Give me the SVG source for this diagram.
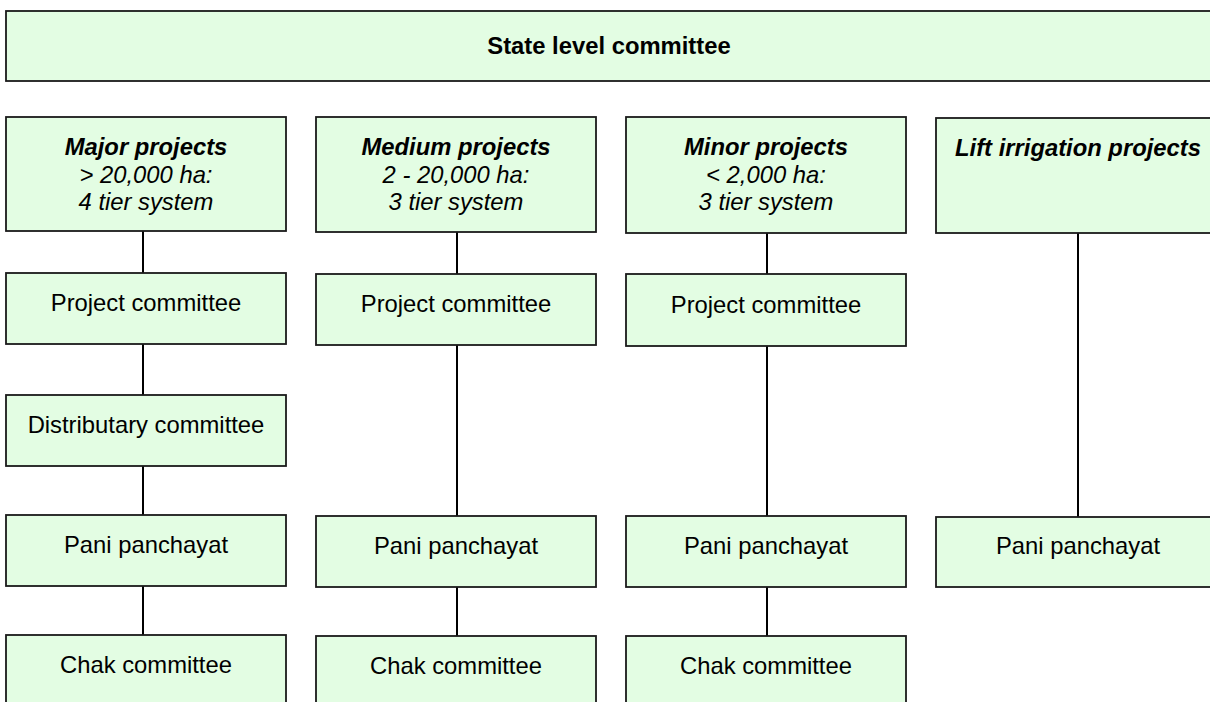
<svg xmlns="http://www.w3.org/2000/svg" width="1210" height="702" viewBox="0 0 1210 702">
<style>
.box{fill:#E3FDE3;stroke:#1a1a1a;stroke-width:1.8}
.t{font-family:"Liberation Sans",Arial,sans-serif;font-size:23.8px;fill:#000;text-anchor:middle}
.b{font-weight:bold}
.i{font-style:italic}
.c{stroke:#000;stroke-width:2;fill:none}
</style>
<rect width="1210" height="702" fill="#fff"/>
<g id="connectors">
<path class="c" d="M143 231V273M143 344V395M143 466V515M143 586V635"/>
<path class="c" d="M457 232V274M457 345V516M457 587V636"/>
<path class="c" d="M767 233V274M767 346V516M767 587V636"/>
<path class="c" d="M1078 233V517"/>
</g>
<g id="state"><rect class="box" x="6" y="11" width="1206" height="70"/><text class="t b" x="609" y="54">State level committee</text></g>
<g id="major"><rect class="box" x="6" y="117" width="280" height="114"/><text class="t i" x="146" y="155"><tspan class="b">Major projects</tspan><tspan x="146" y="182.5">&gt; 20,000 ha:</tspan><tspan x="146" y="210">4 tier system</tspan></text></g>
<g id="medium"><rect class="box" x="316" y="117" width="280" height="115"/><text class="t i" x="456" y="155"><tspan class="b">Medium projects</tspan><tspan x="456" y="182.5">2 - 20,000 ha:</tspan><tspan x="456" y="210">3 tier system</tspan></text></g>
<g id="minor"><rect class="box" x="626" y="117" width="280" height="116"/><text class="t i" x="766" y="155"><tspan class="b">Minor projects</tspan><tspan x="766" y="182.5">&lt; 2,000 ha:</tspan><tspan x="766" y="210">3 tier system</tspan></text></g>
<g id="lift"><rect class="box" x="936" y="118" width="284" height="115"/><text class="t i b" x="1078" y="156">Lift irrigation projects</text></g>
<g id="major-pc"><rect class="box" x="6" y="273" width="280" height="71"/><text class="t" x="146" y="311">Project committee</text></g>
<g id="medium-pc"><rect class="box" x="316" y="274" width="280" height="71"/><text class="t" x="456" y="312">Project committee</text></g>
<g id="minor-pc"><rect class="box" x="626" y="274" width="280" height="72"/><text class="t" x="766" y="313">Project committee</text></g>
<g id="major-dc"><rect class="box" x="6" y="395" width="280" height="71"/><text class="t" x="146" y="433">Distributary committee</text></g>
<g id="major-pp"><rect class="box" x="6" y="515" width="280" height="71"/><text class="t" x="146" y="553">Pani panchayat</text></g>
<g id="medium-pp"><rect class="box" x="316" y="516" width="280" height="71"/><text class="t" x="456" y="554">Pani panchayat</text></g>
<g id="minor-pp"><rect class="box" x="626" y="516" width="280" height="71"/><text class="t" x="766" y="554">Pani panchayat</text></g>
<g id="lift-pp"><rect class="box" x="936" y="517" width="284" height="70"/><text class="t" x="1078" y="554">Pani panchayat</text></g>
<g id="major-cc"><rect class="box" x="6" y="635" width="280" height="80"/><text class="t" x="146" y="673">Chak committee</text></g>
<g id="medium-cc"><rect class="box" x="316" y="636" width="280" height="80"/><text class="t" x="456" y="674">Chak committee</text></g>
<g id="minor-cc"><rect class="box" x="626" y="636" width="280" height="80"/><text class="t" x="766" y="674">Chak committee</text></g>
</svg>
